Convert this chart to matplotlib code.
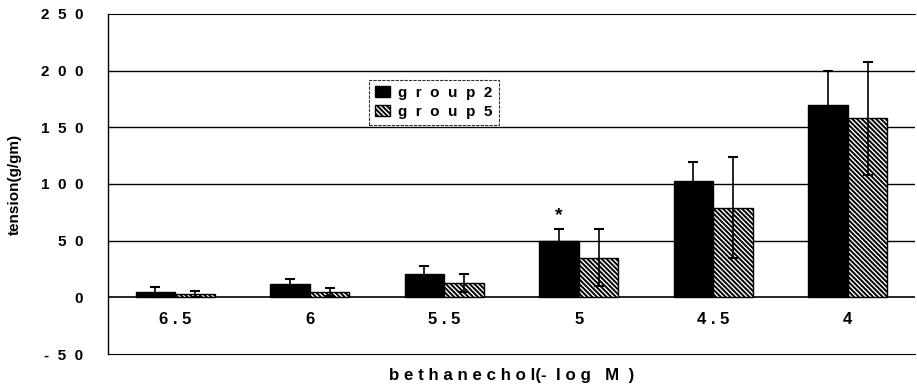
import matplotlib
matplotlib.use("Agg")
import matplotlib.pyplot as plt
import numpy as np

categories = ["6 . 5", "6", "5 . 5", "5", "4 . 5", "4"]
group2 = [5, 11.5, 21, 50, 103, 170]
group2_err = [4.5, 4.5, 6.5, 10.5, 16.5, 30]
group5 = [3, 4.5, 12.5, 35, 79, 158]
group5_err = [2.5, 3.5, 8, 25, 44.5, 50]
series_labels = ["g  r  o  u  p  2", "g  r  o  u  p  5"]
yticks = [-50, 0, 50, 100, 150, 200, 250]
ytick_labels = ["-  5  0", "0", "5  0", "1  0  0", "1  5  0", "2  0  0", "2  5  0"]
star_index = 3
star_value = 72

plt.rcParams['font.family'] = ['Liberation Sans', 'DejaVu Sans']
plt.rcParams['hatch.linewidth'] = 1.4

fig = plt.figure(figsize=(9.17, 3.9), dpi=100)
ax = fig.add_axes([0.1178, 0.0923, 0.880, 0.872])

x = np.arange(len(categories))
w = 0.295

ax.bar(x - w / 2, group2, w, color="black", edgecolor="black", linewidth=1,
       label=series_labels[0], zorder=3)
ax.bar(x + w / 2, group5, w, color="white", edgecolor="black",
       hatch="\\\\\\\\\\\\\\", linewidth=1, label=series_labels[1], zorder=3)
ax.errorbar(x - w / 2, group2, yerr=group2_err, fmt="none", ecolor="black",
            elinewidth=1.2, capsize=3.5, capthick=1.5, zorder=4)
ax.errorbar(x + w / 2, group5, yerr=group5_err, fmt="none", ecolor="black",
            elinewidth=1.2, capsize=3.5, capthick=1.5, zorder=4)

ax.text(x[star_index] - w / 2, star_value, "*", ha="center", va="center",
        fontsize=14, fontweight="bold", zorder=5)

ax.set_xlim(-0.5, len(categories) - 0.5)
ax.set_ylim(-50, 250)
ax.set_yticks(yticks)
ax.set_yticklabels(ytick_labels, fontsize=11, fontweight="bold")
ax.tick_params(axis="y", length=0, pad=18)
ax.set_xticks([])

for yv in [50, 100, 150, 200]:
    ax.axhline(yv, color="black", linewidth=1.0, zorder=1)
ax.axhline(0, color="black", linewidth=1.2, zorder=2)

ax.spines["top"].set_linestyle((0, (1, 1)))
ax.spines["top"].set_linewidth(0.8)
ax.spines["bottom"].set_linestyle((0, (1, 1)))
ax.spines["bottom"].set_linewidth(0.8)
ax.spines["right"].set_visible(False)
ax.spines["left"].set_linewidth(1.0)

for xi, lab in zip(x, categories):
    ax.text(xi, -20, lab, ha="center", va="center", fontsize=12,
            fontweight="bold")

ax.set_ylabel("tension(g/gm)", fontsize=11, fontweight="bold", va="center")
ax.yaxis.set_label_coords(-0.116, 0.5)
ax.set_xlabel("b e t h a n e c h o l(-  l o g   M  )",
              fontsize=12.2, fontweight="bold", labelpad=10)

leg = ax.legend(loc="upper left", bbox_to_anchor=(0.3234, 0.806), fontsize=11,
                frameon=True, fancybox=False, handlelength=1.0, handleheight=0.75,
                handletextpad=0.5, borderpad=0.4, labelspacing=0.3,
                borderaxespad=0)
leg.get_frame().set_edgecolor("black")
leg.get_frame().set_linewidth(0.8)
leg.get_frame().set_linestyle((0, (3, 1)))
for t in leg.get_texts():
    t.set_fontweight("bold")

fig.savefig("out.png", dpi=100)
